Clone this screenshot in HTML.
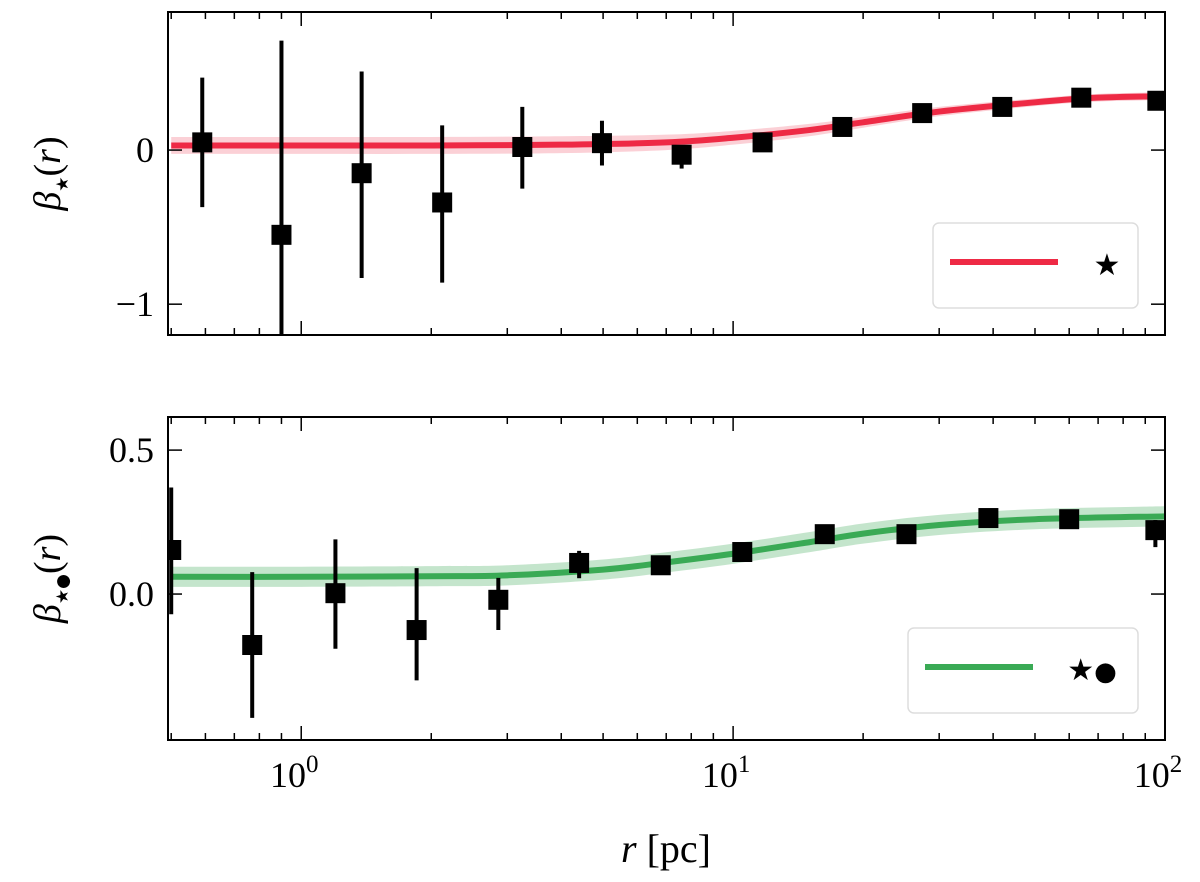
<!DOCTYPE html>
<html><head><meta charset="utf-8">
<style>body{margin:0;background:#fff}svg{display:block;font-family:"Liberation Serif","DejaVu Serif",serif}</style>
</head><body>
<svg id="c" width="1200" height="882" viewBox="0 0 1200 882"></svg>
<script>
// ---- data ----
const topR   = [0.59,0.90,1.38,2.12,3.25,4.97,7.6,11.7,17.9,27.4,42,64,96];
const topB   = [0.05,-0.55,-0.15,-0.34,0.02,0.045,-0.03,0.05,0.15,0.24,0.28,0.34,0.32];
const topHi  = [0.47,0.71,0.51,0.16,0.28,0.19,-0.01,0.07,0.17,0.26,0.30,0.36,0.34];
const topLo  = [-0.37,-1.3,-0.83,-0.86,-0.25,-0.10,-0.12,0.03,0.13,0.22,0.26,0.32,0.30];
const topCurveR = [0.5,1,2,4,7,10,15,20,30,50,70,100];
const topCurveB = [0.03,0.03,0.03,0.035,0.05,0.08,0.13,0.18,0.25,0.31,0.34,0.35];
const topBandW  = [0.055,0.055,0.055,0.055,0.05,0.045,0.04,0.035,0.03,0.025,0.025,0.025];

const botR   = [0.50,0.77,1.2,1.85,2.86,4.4,6.8,10.5,16.3,25.2,39,60,95];
const botB   = [0.153,-0.177,0.003,-0.125,-0.02,0.108,0.10,0.146,0.208,0.208,0.264,0.26,0.222];
const botHi  = [0.37,0.076,0.19,0.09,0.056,0.15,0.12,0.16,0.22,0.22,0.28,0.28,0.257];
const botLo  = [-0.07,-0.43,-0.19,-0.30,-0.125,0.055,0.08,0.13,0.19,0.19,0.25,0.24,0.163];
const botCurveR = [0.5,1,2,3,5,7,10,15,20,30,50,100];
const botCurveB = [0.06,0.06,0.062,0.065,0.085,0.11,0.14,0.18,0.21,0.24,0.26,0.27];
const botBandW  = [0.035,0.035,0.035,0.035,0.035,0.035,0.035,0.035,0.035,0.035,0.035,0.035];

const xTickLabels = ["10","10","10"];
const xTickExp = ["0","1","2"];

const svg=document.getElementById('c');
const NS='http://www.w3.org/2000/svg';
function mk(t,a,p){const e=document.createElementNS(NS,t);for(const k in a)e.setAttribute(k,a[k]);(p||svg).appendChild(e);return e;}
const X0=168,X1=1165, LMIN=Math.log10(0.4915), LMAX=2;
const xs=r=>X0+(Math.log10(r)-LMIN)/(LMAX-LMIN)*(X1-X0);

function smooth(pts){let d='M'+pts[0][0]+','+pts[0][1];for(let i=0;i<pts.length-1;i++){const p0=pts[Math.max(0,i-1)],p1=pts[i],p2=pts[i+1],p3=pts[Math.min(pts.length-1,i+2)];
 d+=' C'+(p1[0]+(p2[0]-p0[0])/6)+','+(p1[1]+(p2[1]-p0[1])/6)+' '+(p2[0]-(p3[0]-p1[0])/6)+','+(p2[1]-(p3[1]-p1[1])/6)+' '+p2[0]+','+p2[1];}return d;}

function panel(o){
 const ys=v=>o.y0+(o.ymax-v)/(o.ymax-o.ymin)*(o.y1-o.y0);
 const g=mk('g',{});  
 const cp='clip'+o.name; const cl=mk('clipPath',{id:cp},g); mk('rect',{x:X0,y:o.y0,width:X1-X0,height:o.y1-o.y0},cl);
 const inner=mk('g',{'clip-path':'url(#'+cp+')'},g);
 const up=o.cr.map((r,i)=>[xs(r),ys(o.cb[i]+o.bw[i])]);
 const dn=o.cr.map((r,i)=>[xs(r),ys(o.cb[i]-o.bw[i])]).reverse();
 const band=mk('path',{d:smooth(up)+' L'+smooth(dn).slice(1)+' Z',fill:o.bandCol},inner);
  
 const line=mk('path',{d:smooth(o.cr.map((r,i)=>[xs(r),ys(o.cb[i])])),fill:'none',stroke:o.col,'stroke-width':6},inner);
  
 o.r.forEach((r,i)=>{const x=xs(r);
  const eb=mk('line',{x1:x,x2:x,y1:ys(o.hi[i]),y2:ys(o.lo[i]),stroke:'#000','stroke-width':4},inner);
   
  const m=mk('rect',{x:x-10,y:ys(o.b[i])-10,width:20,height:20,fill:'#000'},inner);
   });
 for(let dec=-1;dec<2;dec++)for(let k=1;k<10;k++){const r=k*Math.pow(10,dec);if(r<0.4915||r>100)continue;const x=xs(r),L=k==1?14:7;
  mk('line',{x1:x,x2:x,y1:o.y1,y2:o.y1-L,stroke:'#000','stroke-width':1.5},g);
  mk('line',{x1:x,x2:x,y1:o.y0,y2:o.y0+L,stroke:'#000','stroke-width':1.5},g);}
 o.yt.forEach((v,i)=>{const y=ys(v);
  mk('line',{x1:X0,x2:X0+14,y1:y,y2:y,stroke:'#000','stroke-width':1.5},g);
  mk('line',{x1:X1,x2:X1-14,y1:y,y2:y,stroke:'#000','stroke-width':1.5},g);
  const t=mk('text',{x:X0-14,y:y+12,'text-anchor':'end','font-size':36},g);t.textContent=o.ytl[i];
   });
 mk('rect',{x:X0,y:o.y0,width:X1-X0,height:o.y1-o.y0,fill:'none',stroke:'#000','stroke-width':2},g);
 const yl=mk('text',{x:0,y:0,transform:'translate(60,'+((o.y0+o.y1)/2)+') rotate(-90)','text-anchor':'middle','font-size':38,'font-style':'italic'},g);
 yl.innerHTML=o.ylab;  
 const lg=mk('g',{},g);  
 mk('rect',{x:o.lx,y:o.ly,width:1138-o.lx,height:85,rx:6,fill:'#fff','fill-opacity':0.8,stroke:'#ddd','stroke-width':1.5},lg);
 mk('line',{x1:o.lx+17,x2:o.lx+125,y1:o.ly+39,y2:o.ly+39,stroke:o.col,'stroke-width':6},lg);
 const lt=mk('text',{x:o.lx+o.lt,y:o.ly+52,'text-anchor':'middle','font-size':30,'font-family':'DejaVu Sans'},lg);lt.innerHTML=o.leg;
}
panel({name:'top-panel',y0:12,y1:335,ymin:-1.2,ymax:0.896,r:topR,b:topB,hi:topHi,lo:topLo,cr:topCurveR,cb:topCurveB,bw:topBandW,
 col:'#ee2a45',bandCol:'rgba(238,42,69,0.22)',yt:[0,-1],ytl:['0','−1'],ylab:'β<tspan font-size="17" dy="8" font-style="normal" font-family="DejaVu Sans">★</tspan><tspan dy="-8" font-style="normal">(</tspan>r<tspan font-style="normal">)</tspan>',lx:933,ly:223,lt:174,leg:'★'});
panel({name:'bottom-panel',y0:417,y1:740,ymin:-0.507,ymax:0.615,r:botR,b:botB,hi:botHi,lo:botLo,cr:botCurveR,cb:botCurveB,bw:botBandW,
 col:'#3aaa55',bandCol:'rgba(58,170,85,0.3)',yt:[0.5,0],ytl:['0.5','0.0'],ylab:'β<tspan font-size="17" dy="8" font-style="normal" font-family="DejaVu Sans">★●</tspan><tspan dy="-8" font-style="normal">(</tspan>r<tspan font-style="normal">)</tspan>',lx:908,ly:628,lt:184,leg:'★<tspan font-size="26">●</tspan>'});
[1,10,100].forEach((r,i)=>{const t=mk('text',{x:xs(r)-7,y:787,'text-anchor':'middle','font-size':36});
 t.innerHTML=xTickLabels[i]+'<tspan font-size="25" dy="-15">'+xTickExp[i]+'</tspan>';
  });
const xl=mk('text',{x:666,y:862,'text-anchor':'middle','font-size':40});
xl.innerHTML='<tspan font-style="italic">r</tspan>  [pc]';
 
</script>
</body></html>
